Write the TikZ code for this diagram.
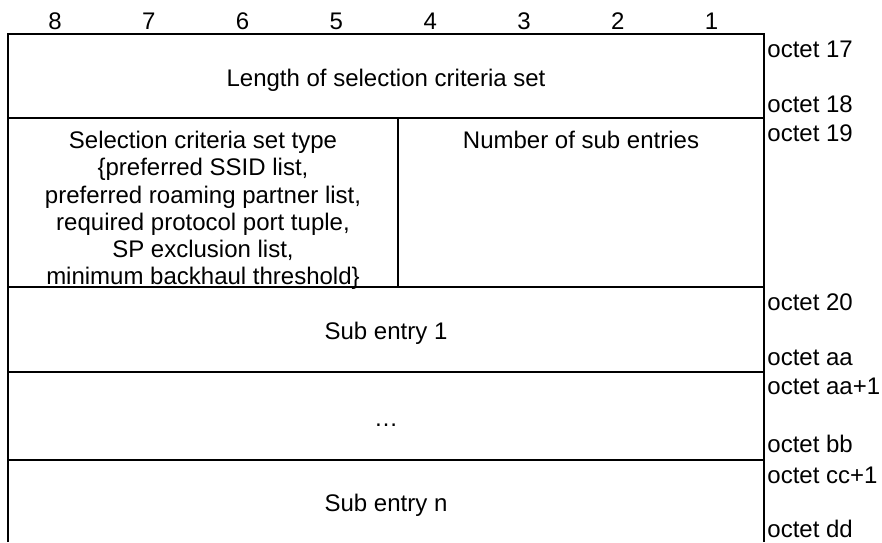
\documentclass[tikz,border=0pt]{standalone}
\usepackage{fontspec}
\setmainfont{Liberation Sans}

\begin{document}
\begin{tikzpicture}[
  x=0.5pt,y=-0.5pt,
  rule/.style={line width=1pt},
  field/.style={inner sep=0pt,align=center},
  octet/.style={anchor=base west,inner sep=0pt},
  bitno/.style={anchor=base,inner sep=0pt},
  every node/.append style={font=\fontsize{12}{13.6}\selectfont}
]
  \useasboundingbox (0,0) rectangle (882,542);

  % bit numbers
  \foreach \b [count=\i from 0] in {8,...,1}
    \node[bitno] (bit\b) at ({55+93.8*\i},29) {\b};

  % frame
  \draw[rule] (8,542) -- (8,34) -- (764,34) -- (764,542);
  \foreach \y in {118,287,372,460}
    \draw[rule] (8,\y) -- (764,\y);
  \draw[rule] (398,118) -- (398,287);

  % fields
  \node[field,anchor=base] (len) at (386,86) {Length of selection criteria set};
  \node[field,anchor=north] (settype) at (203,131) {Selection criteria set type\\
    \{preferred SSID list,\\
    preferred roaming partner list,\\
    required protocol port tuple,\\
    SP exclusion list,\\
    minimum backhaul threshold\}};
  \node[field,anchor=north] (nsub) at (581,131) {Number of sub entries};
  \node[field,anchor=base] (sub1) at (386,339) {Sub entry 1};
  \node[field,anchor=base] (dots) at (386,426) {…};
  \node[field,anchor=base] (subn) at (386,511) {Sub entry n};

  % octet numbers
  \node[octet] (o17) at (767,57) {octet 17};
  \node[octet] (o18) at (767,112) {octet 18};
  \node[octet] (o19) at (767,141) {octet 19};
  \node[octet] (o20) at (767,310) {octet 20};
  \node[octet] (oaa) at (767,365) {octet aa};
  \node[octet] (oaa1) at (767,394) {octet aa+1};
  \node[octet] (obb) at (767,452) {octet bb};
  \node[octet] (occ1) at (767,483) {octet cc+1};
  \node[octet] (odd) at (767,537) {octet dd};
\end{tikzpicture}
\end{document}
